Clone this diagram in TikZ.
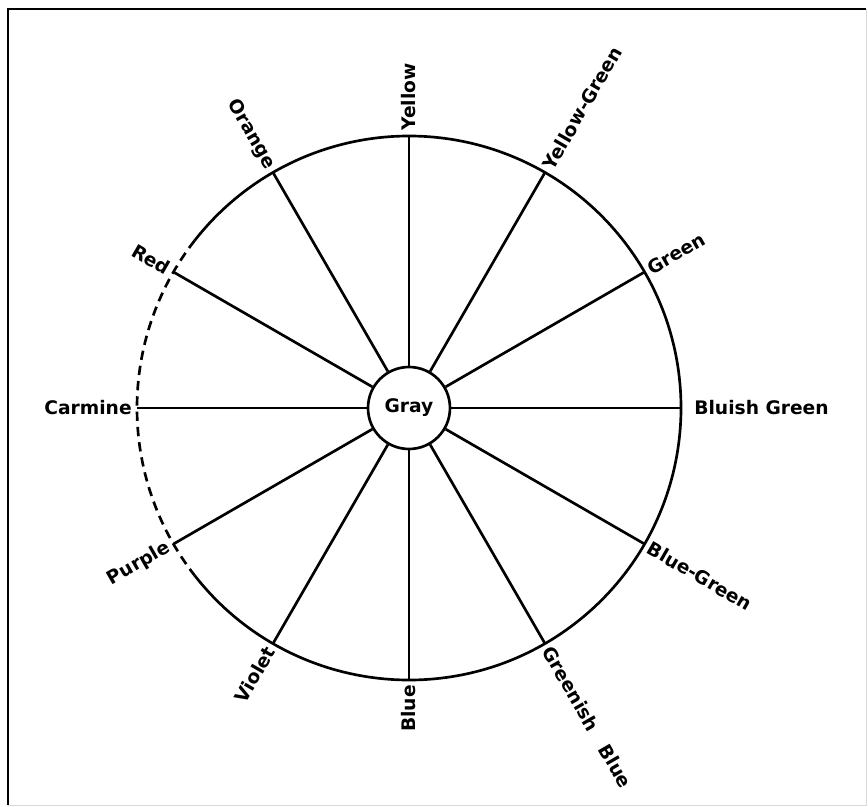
\documentclass[tikz,border=0pt]{standalone}
\usepackage{fontspec}
\newfontfamily\wheelfont{DejaVu Sans}
\begin{document}
\begin{tikzpicture}[x=0.75pt,y=0.75pt,line width=2pt,
  hue/.style={font=\wheelfont\bfseries\fontsize{14}{16}\selectfont,inner sep=3pt}]
\useasboundingbox (-409,-399) rectangle (459,408);
% frame
\draw [line width=2.2pt] (-401,-397) -- (-401,399) -- (457,399);
\draw [line width=0.6pt,black!15] (457,399) -- (457,-397) -- (-401,-397);
% wheel
\node [hue,circle,draw,minimum size=61.5pt,inner sep=0pt] (gray) at (0,0) {Gray};
\draw (218:272) arc (218:502:272);
\draw [dash pattern={on 7pt off 4.5pt}] (142:272) arc (142:218:272);
% spokes, labels on the right half
\foreach \ang/\nm/\txt in {90/yellow/Yellow,60/ygreen/Yellow-Green,30/green/Green,0/bgreen/\hspace{6pt}Bluish Green,-30/bluegreen/Blue-Green,-60/gblue/Greenish\quad Blue}{
  \coordinate (rim-\nm) at (\ang:272);
  \draw (gray) -- (rim-\nm);
  \node [hue,anchor=west,rotate=\ang] (lbl-\nm) at (rim-\nm) {\txt};
}
% spokes, labels on the left half
\foreach \ang/\nm/\txt in {-90/blue/Blue,-120/violet/Violet,-150/purple/Purple,180/carmine/Carmine,150/red/Red,120/orange/Orange}{
  \coordinate (rim-\nm) at (\ang:272);
  \draw (gray) -- (rim-\nm);
  \node [hue,anchor=east,rotate=\ang-180] (lbl-\nm) at (rim-\nm) {\txt};
}
\end{tikzpicture}
\end{document}
